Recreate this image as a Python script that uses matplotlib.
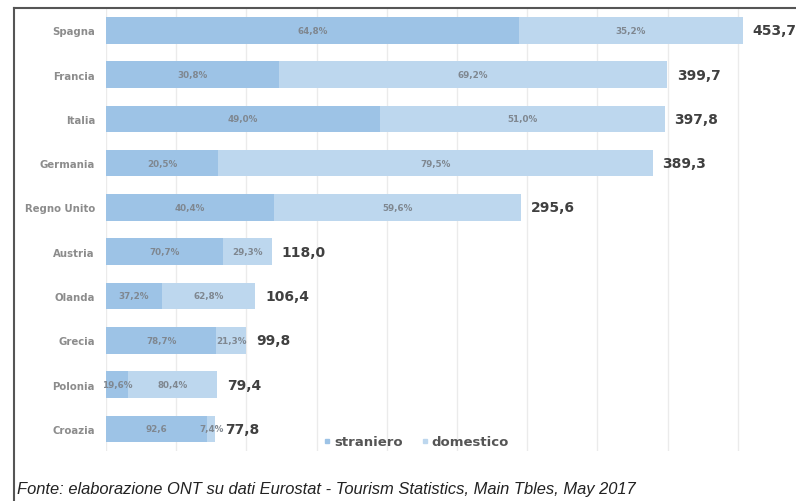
import matplotlib
matplotlib.use("Agg")
import matplotlib.pyplot as plt
from matplotlib.lines import Line2D

countries = ["Spagna", "Francia", "Italia", "Germania", "Regno Unito",
             "Austria", "Olanda", "Grecia", "Polonia", "Croazia"]
totals = [453.7, 399.7, 397.8, 389.3, 295.6, 118.0, 106.4, 99.8, 79.4, 77.8]
straniero_pct = [64.8, 30.8, 49.0, 20.5, 40.4, 70.7, 37.2, 78.7, 19.6, 92.6]
domestico_pct = [35.2, 69.2, 51.0, 79.5, 59.6, 29.3, 62.8, 21.3, 80.4, 7.4]
straniero_lbl = ["64,8%", "30,8%", "49,0%", "20,5%", "40,4%",
                 "70,7%", "37,2%", "78,7%", "19,6%", "92,6"]
domestico_lbl = ["35,2%", "69,2%", "51,0%", "79,5%", "59,6%",
                 "29,3%", "62,8%", "21,3%", "80,4%", "7,4%"]
total_lbl = ["453,7", "399,7", "397,8", "389,3", "295,6",
             "118,0", "106,4", "99,8", "79,4", "77,8"]

c_str = "#9dc3e6"
c_dom = "#bdd7ee"

fig = plt.figure(figsize=(7.96, 5.02), dpi=100)
W, H = 796, 502
ax = fig.add_axes([106 / W, 1 - 452 / H, 674 / W, 442 / H])

y = list(range(len(countries)))
str_len = [t * p / 100 for t, p in zip(totals, straniero_pct)]
dom_len = [t - s for t, s in zip(totals, str_len)]

ax.barh(y, str_len, height=0.6, color=c_str, zorder=2)
ax.barh(y, dom_len, left=str_len, height=0.6, color=c_dom, zorder=2)

pct_kw = dict(ha="center", va="center", fontsize=6.3, color="#7f8790",
              fontweight="bold", family="DejaVu Sans", zorder=3)
for i in y:
    ax.text(str_len[i] / 2, i, straniero_lbl[i], **pct_kw)
    ax.text(str_len[i] + dom_len[i] / 2, i, domestico_lbl[i], **pct_kw)
    ax.annotate(total_lbl[i], (totals[i], i), xytext=(7, 0),
                textcoords="offset points", ha="left", va="center",
                fontsize=10, fontweight="bold", color="#404040",
                family="DejaVu Sans", annotation_clip=False)

ax.set_xlim(0, 480)
ax.set_ylim(9.5, -0.48)
ax.set_xticks(range(0, 451, 50))
ax.xaxis.grid(True, color="#ebebeb", linewidth=1, zorder=0)
ax.set_axisbelow(True)
ax.tick_params(axis="x", length=0, labelbottom=False)
ax.tick_params(axis="y", length=0, pad=8)
ax.set_yticks(y)
ax.set_yticklabels(countries, fontsize=7.3, fontweight="bold",
                   color="#8c8c8c", family="DejaVu Sans")
for s in ax.spines.values():
    s.set_visible(False)

handles = [Line2D([], [], marker="s", linestyle="none", markersize=3.5,
                  color=c_str),
           Line2D([], [], marker="s", linestyle="none", markersize=3.5,
                  color=c_dom)]
fig.legend(handles, ["straniero", "domestico"], loc="center",
           bbox_to_anchor=(415 / W, 1 - 443 / H), ncol=2, frameon=False,
           handletextpad=0.0, columnspacing=1.2, handlelength=1.0,
           prop=dict(family="DejaVu Sans", weight="bold", size=9.5),
           labelcolor="#555555")

fig.text(17 / W, 1 - 490 / H,
         "Fonte: elaborazione ONT su dati Eurostat - Tourism Statistics, Main Tbles, May 2017",
         fontsize=11.9, style="italic", family="Liberation Sans",
         color="#222222", ha="left", va="center")

# frame
fig.add_artist(Line2D([14 / W, 14 / W], [0, 1 - 9 / H], color="#555555",
                      linewidth=1.5, transform=fig.transFigure))
fig.add_artist(Line2D([14 / W, 1], [1 - 9 / H, 1 - 9 / H], color="#555555",
                      linewidth=1.5, transform=fig.transFigure))

fig.savefig("out.png", dpi=100)
